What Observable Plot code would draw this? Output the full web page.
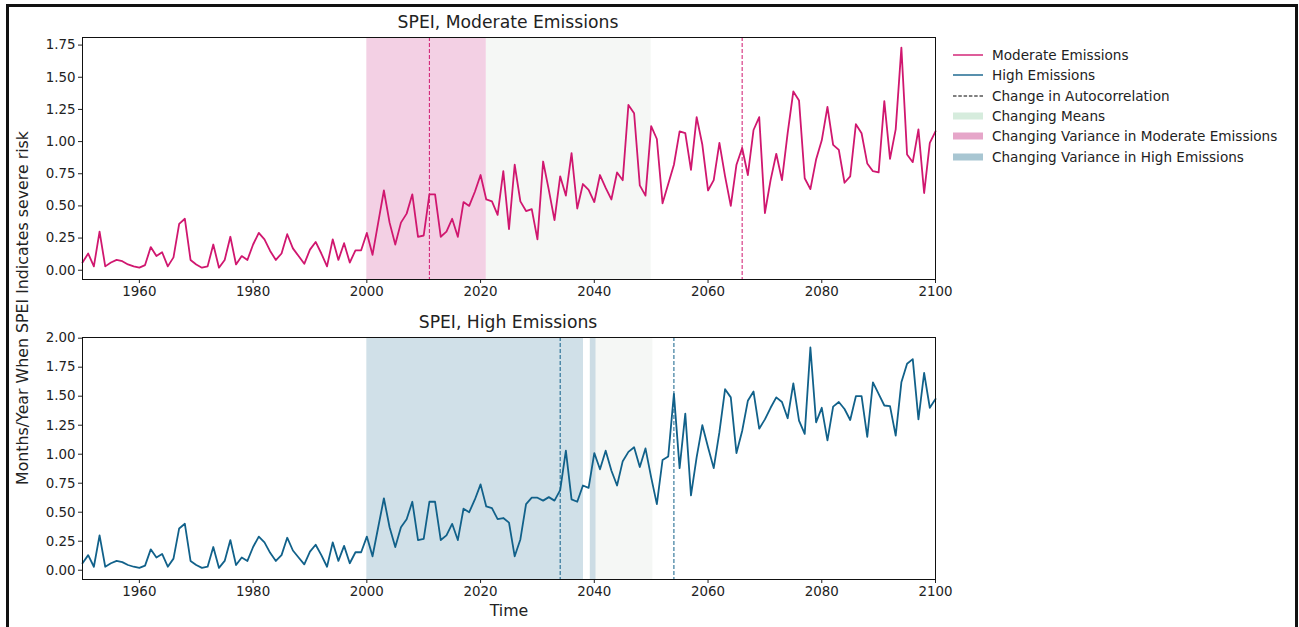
<!DOCTYPE html>
<html>
<head>
<meta charset="utf-8">
<script src="https://cdn.jsdelivr.net/npm/d3@7"></script>
<script src="https://cdn.jsdelivr.net/npm/@observablehq/plot@0.6"></script>
<style>
  html, body { margin: 0; padding: 0; background: #fff; }
  #root { position: relative; width: 1299px; height: 627px; overflow: hidden; font-family: "DejaVu Sans", sans-serif; color: #222; }
  #border { position: absolute; left: 6px; top: 4px; width: 1292px; height: 700px; border: 3px solid #111; box-sizing: border-box; }
  .abs { position: absolute; }
  .title { font-size: 17.2px; transform: translate(-50%, -50%); white-space: nowrap; }
  .lab { font-size: 15.8px; white-space: nowrap; }
  .legrow { position: absolute; left: 953px; height: 20px; display: flex; align-items: center; font-size: 13.6px; white-space: nowrap; transform: translateY(-50%); }
  .legrow svg { margin-right: 9px; }
</style>
</head>
<body>
<div id="root">
  <div id="border"></div>
</div>
<script>
// ---- data ----
const years = d3.range(1950, 2101);
// shared historical values 1950–2022 (identical in both panels)
const historical = [
  0.06, 0.13, 0.03, 0.30, 0.03, 0.06, 0.08, 0.07, 0.045, 0.03,
  0.02, 0.04, 0.18, 0.11, 0.14, 0.03, 0.10, 0.36, 0.40, 0.08,
  0.045, 0.02, 0.03, 0.20, 0.02, 0.08, 0.26, 0.045, 0.11, 0.08,
  0.20, 0.29, 0.24, 0.15, 0.08, 0.13, 0.28, 0.17, 0.11, 0.05,
  0.16, 0.22, 0.13, 0.03, 0.24, 0.08, 0.21, 0.06, 0.155, 0.155,
  0.29, 0.12, 0.37, 0.62, 0.37, 0.20, 0.37, 0.44, 0.59, 0.26,
  0.27, 0.59, 0.59, 0.26, 0.30, 0.40, 0.26, 0.53, 0.50, 0.61,
  0.74, 0.55, 0.535
];
// 2023–2100
const moderateFuture = [
  0.43, 0.77, 0.32, 0.82, 0.535, 0.46, 0.475, 0.24,
  0.845, 0.625, 0.39, 0.73, 0.58, 0.91, 0.48, 0.67, 0.625, 0.53,
  0.74, 0.64, 0.55, 0.76, 0.70, 1.285, 1.22, 0.66, 0.58, 1.12,
  1.02, 0.52, 0.67, 0.82, 1.08, 1.065, 0.78, 1.19, 0.975, 0.62,
  0.70, 0.99, 0.73, 0.50, 0.82, 0.95, 0.74, 1.09, 1.19, 0.445,
  0.70, 0.905, 0.70, 1.065, 1.39, 1.32, 0.715, 0.63, 0.86, 1.01,
  1.27, 0.975, 0.935, 0.68, 0.73, 1.135, 1.065, 0.83, 0.77, 0.76,
  1.315, 0.865, 1.095, 1.73, 0.90, 0.84, 1.095, 0.60, 0.99, 1.08
];
const highFuture = [
  0.44, 0.45, 0.41, 0.12, 0.265, 0.57, 0.625, 0.625,
  0.60, 0.63, 0.60, 0.69, 1.03, 0.61, 0.59, 0.73, 0.71, 1.01,
  0.87, 1.03, 0.86, 0.73, 0.94, 1.02, 1.06, 0.89, 1.05, 0.80,
  0.57, 0.95, 0.98, 1.52, 0.88, 1.35, 0.645, 0.975, 1.25, 1.06,
  0.88, 1.19, 1.56, 1.49, 1.01, 1.20, 1.46, 1.54, 1.22, 1.30,
  1.40, 1.49, 1.45, 1.31, 1.61, 1.29, 1.175, 1.92, 1.275, 1.40,
  1.12, 1.41, 1.45, 1.39, 1.295, 1.50, 1.50, 1.15, 1.62, 1.52,
  1.42, 1.415, 1.16, 1.62, 1.78, 1.82, 1.30, 1.70, 1.40, 1.475
];
const moderate = historical.concat(moderateFuture);
const high = historical.concat(highFuture);

// change points / regimes
const autocorrModerate = [2011, 2066];
const autocorrHigh = [2034, 2054];
const meansModerate = [[2021, 2050]];
const meansHigh = [[2039.3, 2050.3]];
const varianceModerate = [[2000, 2021]];
const varianceHigh = [[2000, 2038.1], [2039.3, 2040.3]];

const xTicks = [1960, 1980, 2000, 2020, 2040, 2060, 2080, 2100];
const yTicksModerate = [0, 0.25, 0.5, 0.75, 1.0, 1.25, 1.5, 1.75];
const yTicksHigh = [0, 0.25, 0.5, 0.75, 1.0, 1.25, 1.5, 1.75, 2.0];

const titles = ["SPEI, Moderate Emissions", "SPEI, High Emissions"];
const yLabel = "Months/Year When SPEI Indicates severe risk";
const xLabel = "Time";
const legendItems = [
  {label: "Moderate Emissions", kind: "line", color: "#d0176f"},
  {label: "High Emissions", kind: "line", color: "#11618a"},
  {label: "Change in Autocorrelation", kind: "dash", color: "#000"},
  {label: "Changing Means", kind: "patch", color: "#d6ecdd"},
  {label: "Changing Variance in Moderate Emissions", kind: "patch", color: "#e6a6c9"},
  {label: "Changing Variance in High Emissions", kind: "patch", color: "#a8c6d2"}
];

// ---- styles ----
const colModerate = "#d0176f";
const colHigh = "#11618a";
const shadeMeans = "#e6ece6";
const shadeVarModerate = "#e9a9cd";
const shadeVarHigh = "#a9c6d6";

function panel({values, color, means, variance, varColor, autocorr, yDomain, yTicks}) {
  const data = years.map((y, i) => ({year: y, value: values[i]}));
  return Plot.plot({
    width: 960,
    height: 300,
    marginLeft: 82,
    marginRight: 25,
    marginTop: 37,
    marginBottom: 21,
    style: {fontFamily: "DejaVu Sans, sans-serif", fontSize: "13.4px", color: "#222", background: "transparent", overflow: "visible"},
    x: {domain: [1950, 2100], ticks: xTicks, tickFormat: d => String(d), tickSize: 4, tickPadding: 3, label: null},
    y: {domain: yDomain, ticks: yTicks, tickFormat: d3.format(".2f"), tickSize: 4, tickPadding: 3, label: null},
    marks: [
      Plot.rect(means, {x1: d => d[0], x2: d => d[1], fill: shadeMeans, fillOpacity: 0.4}),
      Plot.rect(variance, {x1: d => d[0], x2: d => d[1], fill: varColor, fillOpacity: 0.55}),
      Plot.ruleX(autocorr, {stroke: color, strokeWidth: 1, strokeDasharray: "4,2"}),
      Plot.line(data, {x: "year", y: "value", stroke: color, strokeWidth: 1.8}),
      Plot.frame({stroke: "#111", strokeWidth: 1})
    ]
  });
}

const root = document.getElementById("root");

const topPlot = panel({values: moderate, color: colModerate, means: meansModerate, variance: varianceModerate,
  varColor: shadeVarModerate, autocorr: autocorrModerate, yDomain: [-0.072, 1.809], yTicks: yTicksModerate});
topPlot.classList.add("abs"); topPlot.style.left = "0px"; topPlot.style.top = "0px";
root.appendChild(topPlot);

const bottomPlot = panel({values: high, color: colHigh, means: meansHigh, variance: varianceHigh,
  varColor: shadeVarHigh, autocorr: autocorrHigh, yDomain: [-0.08, 2.006], yTicks: yTicksHigh});
bottomPlot.classList.add("abs"); bottomPlot.style.left = "0px"; bottomPlot.style.top = "300px";
root.appendChild(bottomPlot);

function addText(cls, text, left, topPx, extra) {
  const d = document.createElement("div");
  d.className = "abs " + cls;
  d.textContent = text;
  d.style.left = left + "px";
  d.style.top = topPx + "px";
  if (extra) Object.assign(d.style, extra);
  root.appendChild(d);
  return d;
}
addText("title", titles[0], 508, 22);
addText("title", titles[1], 508, 322);
addText("lab", xLabel, 509, 610, {transform: "translate(-50%, -50%)"});
addText("lab", yLabel, 22, 308, {transform: "translate(-50%, -50%) rotate(-90deg)"});

const rowY = [55, 75, 96, 116, 136, 157];
legendItems.forEach((it, i) => {
  const row = document.createElement("div");
  row.className = "legrow";
  row.style.top = rowY[i] + "px";
  let sw;
  if (it.kind === "line") sw = `<svg width="30" height="10"><line x1="0" x2="30" y1="5" y2="5" stroke="${it.color}" stroke-width="1.4"/></svg>`;
  else if (it.kind === "dash") sw = `<svg width="30" height="10"><line x1="0" x2="30" y1="5" y2="5" stroke="${it.color}" stroke-width="1" stroke-dasharray="3.5,1.8"/></svg>`;
  else sw = `<svg width="30" height="10"><rect x="0" y="1.5" width="30" height="7" fill="${it.color}"/></svg>`;
  row.innerHTML = sw + `<span></span>`;
  row.querySelector("span").textContent = it.label;
  root.appendChild(row);
});
</script>
</body>
</html>
